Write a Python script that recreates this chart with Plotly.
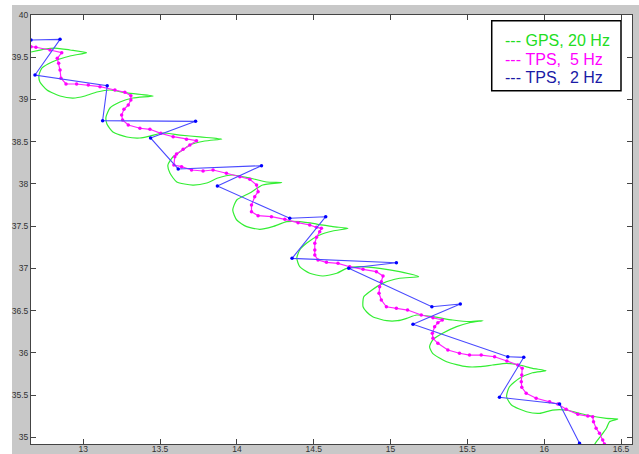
import plotly.graph_objects as go

# ---- data ----
gps_x = [12.660, 12.751, 12.816, 12.914, 13.022, 12.914, 12.797, 12.732, 12.712, 12.718,
         12.764, 12.849, 12.933, 13.011, 13.089, 13.174, 13.284, 13.455, 13.323, 13.239,
         13.174, 13.148, 13.154, 13.193, 13.284, 13.369, 13.434, 13.518, 13.629, 13.759,
         13.902, 13.791, 13.694, 13.648, 13.583, 13.551, 13.564, 13.609, 13.713, 13.804,
         13.876, 13.973, 14.084, 14.194, 14.292, 14.168, 14.084, 13.999, 13.973, 13.999,
         14.064, 14.149, 14.233, 14.325, 14.409, 14.520, 14.624, 14.723, 14.624, 14.539,
         14.455, 14.409, 14.390, 14.409, 14.474, 14.559, 14.650, 14.715, 14.799, 14.929,
         15.059, 15.183, 15.059, 14.949, 14.864, 14.825, 14.821, 14.845, 14.884, 14.975,
         15.046, 15.105, 15.170, 15.274, 15.404, 15.514, 15.601, 15.514, 15.430, 15.339,
         15.274, 15.254, 15.274, 15.365, 15.495, 15.579, 15.664, 15.755, 15.839, 15.924,
         16.013, 15.924, 15.839, 15.774, 15.755, 15.787, 15.885, 15.970, 16.054, 16.145,
         16.275, 16.405, 16.479, 16.425, 16.405, 16.373, 16.340, 16.321]
gps_y = [39.562, 39.597, 39.609, 39.586, 39.554, 39.515, 39.444, 39.373, 39.290, 39.207,
         39.112, 39.041, 39.017, 39.041, 39.088, 39.112, 39.077, 39.041, 39.017, 38.970,
         38.899, 38.792, 38.709, 38.615, 38.556, 38.544, 38.567, 38.603, 38.579, 38.556,
         38.532, 38.508, 38.461, 38.402, 38.319, 38.224, 38.129, 38.023, 37.987, 38.011,
         38.070, 38.106, 38.070, 38.023, 38.017, 37.987, 37.893, 37.810, 37.691, 37.573,
         37.494, 37.463, 37.494, 37.553, 37.553, 37.525, 37.494, 37.475, 37.443, 37.395,
         37.300, 37.218, 37.123, 37.020, 36.942, 36.910, 36.942, 37.001, 37.020, 37.001,
         36.961, 36.902, 36.883, 36.823, 36.724, 36.661, 36.546, 36.484, 36.428, 36.381,
         36.381, 36.409, 36.448, 36.428, 36.389, 36.369, 36.381, 36.357, 36.310, 36.231,
         36.152, 36.073, 35.995, 35.895, 35.836, 35.836, 35.856, 35.876, 35.856, 35.817,
         35.789, 35.765, 35.699, 35.599, 35.481, 35.382, 35.303, 35.284, 35.323, 35.323,
         35.264, 35.225, 35.217, 35.185, 35.107, 35.027, 34.948, 34.897]

tps5_x = [12.660, 12.692, 12.784, 12.860, 12.831, 12.840, 12.849, 12.855, 12.888, 12.957,
          13.033, 13.109, 13.206, 13.271, 13.310, 13.310, 13.293, 13.265, 13.250, 13.256,
          13.293, 13.369, 13.434, 13.505, 13.585, 13.672, 13.737, 13.694, 13.650, 13.607,
          13.596, 13.590, 13.640, 13.705, 13.780, 13.845, 13.932, 14.019, 14.084, 14.128,
          14.138, 14.116, 14.095, 14.095, 14.138, 14.225, 14.312, 14.398, 14.474, 14.518,
          14.550, 14.539, 14.518, 14.507, 14.507, 14.507, 14.528, 14.583, 14.658, 14.734,
          14.821, 14.908, 14.951, 14.940, 14.929, 14.925, 14.940, 14.973, 15.038, 15.111,
          15.200, 15.276, 15.337, 15.308, 15.287, 15.272, 15.276, 15.308, 15.373, 15.449,
          15.514, 15.590, 15.677, 15.757, 15.828, 15.857, 15.854, 15.851, 15.854, 15.883,
          15.948, 16.035, 16.089, 16.143, 16.219, 16.284, 16.316, 16.321, 16.338, 16.360,
          16.381, 16.392]
tps5_y = [39.625, 39.618, 39.586, 39.554, 39.487, 39.428, 39.349, 39.251, 39.183, 39.183,
          39.171, 39.151, 39.112, 39.085, 39.045, 38.994, 38.934, 38.884, 38.816, 38.757,
          38.698, 38.659, 38.647, 38.599, 38.559, 38.528, 38.512, 38.461, 38.410, 38.354,
          38.322, 38.224, 38.204, 38.165, 38.153, 38.165, 38.126, 38.086, 38.055, 37.987,
          37.908, 37.849, 37.750, 37.671, 37.624, 37.612, 37.581, 37.541, 37.514, 37.486,
          37.475, 37.434, 37.368, 37.297, 37.218, 37.158, 37.099, 37.072, 37.060, 37.020,
          36.989, 36.961, 36.910, 36.842, 36.783, 36.705, 36.626, 36.546, 36.527, 36.507,
          36.448, 36.416, 36.389, 36.357, 36.310, 36.231, 36.172, 36.113, 36.034, 35.995,
          35.974, 35.974, 35.954, 35.903, 35.856, 35.817, 35.738, 35.658, 35.592, 35.521,
          35.462, 35.422, 35.394, 35.332, 35.272, 35.252, 35.244, 35.185, 35.107, 35.047,
          34.968, 34.921]

tps2_x = [12.660, 12.849, 12.686, 13.156, 13.126, 13.731, 13.438, 13.618, 14.160, 13.873,
          14.344, 14.578, 14.359, 15.038, 14.728, 15.269, 15.454, 15.146, 15.763, 15.867,
          15.709, 16.100, 16.230]
tps2_y = [39.704, 39.712, 39.290, 39.163, 38.749, 38.741, 38.544, 38.177, 38.216, 37.975,
          37.593, 37.612, 37.119, 37.067, 37.001, 36.546, 36.578, 36.338, 35.954, 35.947,
          35.474, 35.394, 34.929]

legend_labels = ["---\u00a0GPS,\u00a020\u00a0Hz", "---\u00a0TPS,\u00a0\u00a05\u00a0Hz", "---\u00a0TPS,\u00a0\u00a02\u00a0Hz"]
legend_colors = ["#22dd22", "#ff00ff", "#1a1aa6"]

x_ticks = [13, 13.5, 14, 14.5, 15, 15.5, 16, 16.5]
y_ticks = [35, 35.5, 36, 36.5, 37, 37.5, 38, 38.5, 39, 39.5, 40]

fig = go.Figure()
fig.add_trace(go.Scatter(x=gps_x, y=gps_y, mode="lines",
                         line=dict(color="#33ee33", width=1.2, shape="spline", smoothing=0.6),
                         showlegend=False))
fig.add_trace(go.Scatter(x=tps5_x, y=tps5_y, mode="lines+markers",
                         line=dict(color="#ff22ff", width=1.2),
                         marker=dict(color="#ff00ff", size=3.5),
                         showlegend=False))
fig.add_trace(go.Scatter(x=tps2_x, y=tps2_y, mode="lines+markers",
                         line=dict(color="#4a4aff", width=1.1),
                         marker=dict(color="#0000ff", size=3.5),
                         showlegend=False))

# gray figure frame: white strips on the far left and top
fig.add_shape(type="rect", xref="paper", yref="paper", x0=-0.06, x1=-0.0316, y0=-0.05, y1=1.05,
              line=dict(width=0), fillcolor="white", layer="below")
fig.add_shape(type="rect", xref="paper", yref="paper", x0=-0.06, x1=1.05, y0=1.0233, y1=1.05,
              line=dict(width=0), fillcolor="white", layer="below")

# legend box
fig.add_shape(type="rect", xref="paper", yref="paper", x0=0.7666, x1=0.9817, y0=0.8235, y1=0.9867,
              line=dict(color="black", width=1.5), fillcolor="white", layer="above")
for lab, col, yy in zip(legend_labels, legend_colors, [0.9417, 0.8974, 0.8538]):
    fig.add_annotation(xref="paper", yref="paper", x=0.785, y=yy, xanchor="left", yanchor="middle",
                       text=lab, showarrow=False,
                       font=dict(family="Liberation Sans, Arial", size=16, color=col))

axis_common = dict(showgrid=False, zeroline=False, showline=True, linecolor="#444", linewidth=1,
                   mirror="ticks", ticks="inside", ticklen=5, tickcolor="#444", tickwidth=1,
                   tickfont=dict(family="Liberation Sans, Arial", size=8.5, color="#333"),
                   automargin=False)
fig.update_xaxes(range=[12.66, 16.5715], tickvals=x_ticks, ticklabelstandoff=-3,
                 ticktext=[f"{v:g}" for v in x_ticks], **axis_common)
fig.update_yaxes(range=[34.921, 40.0], tickvals=y_ticks,
                 ticktext=[f"{v:g}" for v in y_ticks], **axis_common)

fig.update_layout(width=639, height=454, margin=dict(l=31, r=7, t=15, b=10, pad=0),
                  paper_bgcolor="#c8c8c8", plot_bgcolor="white", showlegend=False)

fig.write_html("out.html", config={"displayModeBar": False},
               post_script="document.body.style.margin='0';document.body.style.overflow='hidden';")
